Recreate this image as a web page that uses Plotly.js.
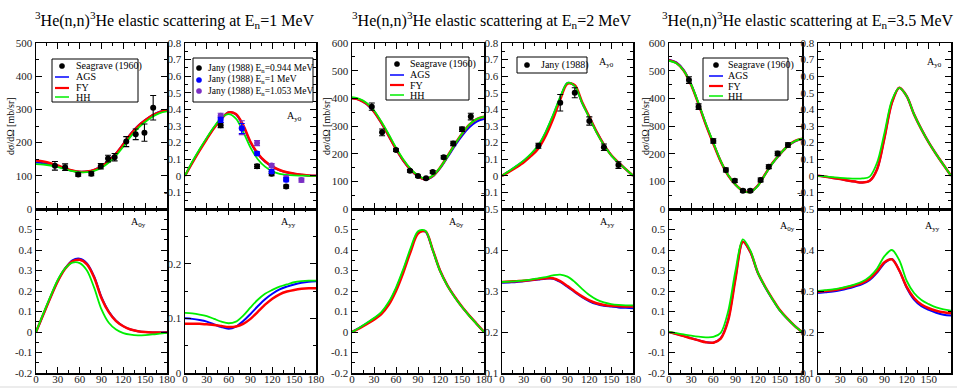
<!DOCTYPE html>
<html><head><meta charset="utf-8">
<script src="https://cdn.plot.ly/plotly-3.0.1.min.js"></script>
<style>html,body{margin:0;padding:0;background:#fff;overflow:hidden}#plot{width:957px;height:388px}</style>
</head><body><div id="plot"></div>
<script>
// ---------- data ----------
const theta = [0,10,20,30,40,50,60,70,80,90,100,110,120,130,140,150,160,170,180];
const xTicks = [0,30,60,90,120,150,180];
const xsTicksE1 = [0,100,200,300,400,500];
const xsTicks = [0,100,200,300,400,500,600];
const ay0Ticks = [-0.1,0,0.1,0.2,0.3,0.4,0.5,0.6,0.7,0.8];
const a0yTicks = [-0.2,-0.1,0,0.1,0.2,0.3,0.4,0.5];
const ayyTicksE1 = [0,0.1,0.2];
const ayyTicks = [0.1,0.2,0.3,0.4,0.5];

// E = 1 MeV
const e1XsAGS = [140,138,134,128,121,115,112,113,118,129,146,168,196,226,250,268,283,293,298];
const e1XsFY  = [146,143,138,131,123,116,112,113,118,128,145,167,195,225,249,267,282,292,298];
const e1XsHH  = [135,134,131,126,120,114,111,111,115,124,140,161,188,218,243,262,278,289,294];
const e1Ay0AGS = [0,0.08,0.155,0.225,0.29,0.345,0.383,0.37,0.3,0.2,0.13,0.085,0.055,0.033,0.02,0.012,0.006,0.002,0];
const e1Ay0FY  = [0,0.078,0.152,0.222,0.288,0.343,0.382,0.372,0.305,0.205,0.135,0.088,0.057,0.035,0.021,0.013,0.007,0.002,0];
const e1Ay0HH  = [0,0.085,0.16,0.23,0.295,0.35,0.372,0.345,0.265,0.17,0.1,0.055,0.027,0.012,0.005,0.002,0.001,0,0];
const e1A0yAGS = [0,0.085,0.17,0.25,0.31,0.35,0.358,0.335,0.27,0.17,0.1,0.055,0.028,0.012,0.004,0,-0.002,-0.002,0];
const e1A0yFY  = [0,0.085,0.17,0.248,0.308,0.345,0.352,0.33,0.265,0.165,0.097,0.053,0.028,0.012,0.004,0,-0.002,-0.003,-0.003];
const e1A0yHH  = [0,0.09,0.175,0.255,0.31,0.338,0.336,0.3,0.215,0.11,0.045,0.012,-0.005,-0.013,-0.016,-0.015,-0.012,-0.008,-0.004];
const e1AyyAGS = [0.100,0.099,0.097,0.094,0.089,0.084,0.081,0.085,0.095,0.108,0.122,0.135,0.145,0.153,0.158,0.162,0.165,0.167,0.168];
const e1AyyFY  = [0.090,0.090,0.090,0.089,0.088,0.086,0.084,0.085,0.090,0.099,0.112,0.125,0.136,0.144,0.149,0.152,0.154,0.155,0.155];
const e1AyyHH  = [0.110,0.109,0.107,0.104,0.099,0.094,0.091,0.094,0.105,0.120,0.134,0.145,0.152,0.158,0.162,0.166,0.168,0.169,0.169];
const e1SgTheta = [26,40,58,76,89,99,108,124,137,149,161];
const e1SgXs    = [130,126,104,106,129,152,156,203,225,230,305];
const e1SgErr   = [13,10,5,6,8,10,11,15,16,26,37];
const e1JanyTheta0944 = [49,99,119,139];
const e1Jany0944      = [0.305,0.057,0.012,-0.065];
const e1Jany0944Err   = [0.015,0.012,0.012,0.01];
const e1JanyTheta1 = [49,78,99,119,139];
const e1Jany1      = [0.337,0.285,0.134,0.026,-0.024];
const e1Jany1Err   = [0.015,0.03,0.01,0.012,0.012];
const e1JanyTheta1053 = [49,78,99,119,139,160];
const e1Jany1053      = [0.362,0.29,0.197,0.062,-0.014,-0.026];
const e1Jany1053Err   = [0.015,0.042,0.015,0.012,0.014,0.012];

// E = 2 MeV
const e2XsAGS = [400,395,379,351,311,264,216,174,141,118,107,118,147,186,227,264,295,316,325];
const e2XsFY  = [400,395,380,352,312,265,217,175,142,119,107,119,149,190,233,272,305,325,334];
const e2XsHH  = [404,398,383,356,316,270,222,179,145,121,109,120,149,189,232,272,305,325,334];
const e2Ay0AGS = [0,0.028,0.058,0.09,0.13,0.18,0.26,0.36,0.47,0.56,0.54,0.44,0.355,0.265,0.188,0.125,0.08,0.04,0];
const e2Ay0FY  = [0,0.025,0.052,0.082,0.12,0.165,0.24,0.34,0.46,0.555,0.545,0.445,0.355,0.265,0.188,0.125,0.08,0.04,0];
const e2Ay0HH  = [0,0.03,0.06,0.093,0.133,0.185,0.265,0.365,0.475,0.56,0.54,0.44,0.35,0.26,0.185,0.123,0.078,0.04,0];
const e2A0yAGS = [0,0.02,0.042,0.065,0.093,0.14,0.21,0.3,0.4,0.485,0.49,0.4,0.3,0.228,0.172,0.123,0.08,0.04,0];
const e2A0yFY  = [0,0.018,0.038,0.06,0.087,0.132,0.2,0.29,0.393,0.48,0.492,0.402,0.3,0.228,0.172,0.123,0.08,0.04,0];
const e2A0yHH  = [0,0.021,0.044,0.068,0.097,0.146,0.217,0.308,0.41,0.492,0.494,0.4,0.298,0.226,0.17,0.122,0.079,0.039,0];
const e2AyyAGS = [0.320,0.321,0.322,0.324,0.326,0.328,0.330,0.330,0.322,0.310,0.297,0.285,0.275,0.268,0.264,0.262,0.260,0.259,0.258];
const e2AyyFY  = [0.322,0.323,0.324,0.325,0.327,0.329,0.331,0.331,0.324,0.312,0.299,0.287,0.277,0.270,0.266,0.264,0.263,0.262,0.262];
const e2AyyHH  = [0.322,0.323,0.324,0.326,0.328,0.331,0.334,0.338,0.340,0.335,0.322,0.305,0.290,0.279,0.272,0.268,0.266,0.265,0.265];
const e2SgTheta = [27,41,60,79,90,101,110,125,138,150,162];
const e2SgXs    = [370,277,213,138,119,111,134,187,237,288,334];
const e2SgErr   = [13,12,5,5,4,4,5,6,8,8,12];
const e2JanyTheta = [50,80,100,120,140,160];
const e2Jany      = [0.181,0.44,0.50,0.33,0.172,0.065];
const e2JanyErr   = [0.015,0.05,0.03,0.025,0.02,0.02];

// E = 3.5 MeV
const e35XsAGS = [540,530,502,450,380,305,238,172,122,88,66,62,84,125,165,197,225,244,253];
const e35XsFY  = [538,528,500,448,379,304,236,172,122,88,66,62,84,125,166,198,226,245,254];
const e35XsHH  = [536,527,500,450,382,308,240,174,123,88,65,61,83,124,165,198,226,245,254];
const e35Ay0AGS = [0,-0.006,-0.013,-0.02,-0.028,-0.035,-0.04,-0.03,0.04,0.23,0.44,0.53,0.48,0.37,0.28,0.2,0.13,0.065,0];
const e35Ay0FY  = [0,-0.006,-0.013,-0.02,-0.028,-0.035,-0.04,-0.03,0.04,0.23,0.44,0.53,0.48,0.37,0.28,0.2,0.13,0.065,0];
const e35Ay0HH  = [0,-0.004,-0.008,-0.012,-0.015,-0.017,-0.016,-0.005,0.08,0.26,0.455,0.53,0.48,0.37,0.28,0.2,0.13,0.065,0];
const e35A0yAGS = [0,-0.01,-0.02,-0.03,-0.04,-0.05,-0.052,-0.03,0.06,0.265,0.44,0.39,0.29,0.22,0.16,0.105,0.065,0.03,0];
const e35A0yFY  = [0,-0.01,-0.02,-0.031,-0.041,-0.05,-0.052,-0.032,0.055,0.26,0.44,0.392,0.292,0.222,0.162,0.107,0.066,0.03,0];
const e35A0yHH  = [0,-0.006,-0.012,-0.018,-0.023,-0.026,-0.024,-0.004,0.1,0.3,0.452,0.398,0.292,0.22,0.16,0.105,0.065,0.03,0];
const e35AyyAGS = [0.295,0.297,0.299,0.302,0.306,0.311,0.317,0.327,0.345,0.368,0.378,0.350,0.308,0.279,0.263,0.254,0.247,0.242,0.240];
const e35AyyFY  = [0.298,0.300,0.302,0.305,0.309,0.314,0.320,0.330,0.348,0.370,0.377,0.350,0.310,0.283,0.267,0.258,0.252,0.248,0.246];
const e35AyyHH  = [0.300,0.302,0.304,0.307,0.311,0.316,0.323,0.335,0.355,0.385,0.400,0.375,0.325,0.295,0.278,0.268,0.260,0.255,0.252];
const e35SgTheta = [27,40,60,77,89,100,110,124,135,147,161];
const e35SgXs    = [466,370,246,141,102,66,66,105,153,201,231];
const e35SgErr   = [12,10,8,7,6,5,5,7,7,8,8];

// ---------- layout helpers ----------
const W = 957, H = 388;
const PX = x => x / W, PY = y => 1 - y / H;
const cols = [[36,167],[185,316],[352,484],[502,633],[669,802],[818,951]];
const rowsPx = [[43,209],[209,373]];
const ids = k => k === 1 ? ['x','y'] : ['x'+k, 'y'+k];
const BLUE = '#0000ff', RED = '#ff0000', GREEN = '#00ee00', PURPLE = '#7a2fc4';
const SERIF = 'Liberation Serif';

const traces = [];
function curves(k, ags, fy, hh) {
  const [xa, ya] = ids(k);
  [[ags, BLUE, 2], [fy, RED, 2.5], [hh, GREEN, 1.8]].forEach(([v, c, w]) => {
    traces.push({type:'scatter', mode:'lines', x: theta, y: v, xaxis: xa, yaxis: ya,
      line:{color:c, width:w, shape:'spline', smoothing:0.9}, hoverinfo:'skip', showlegend:false});
  });
}
function points(k, xs, ys, es, color) {
  const [xa, ya] = ids(k);
  traces.push({type:'scatter', mode:'markers', x: xs, y: ys, xaxis: xa, yaxis: ya,
    marker:{color:color, size:6, symbol:'circle'},
    error_y:{type:'data', array: es, visible:true, color:color, thickness:1.1, width:3},
    hoverinfo:'skip', showlegend:false});
}

curves(1, e1XsAGS, e1XsFY, e1XsHH);
curves(2, e1Ay0AGS, e1Ay0FY, e1Ay0HH);
curves(3, e2XsAGS, e2XsFY, e2XsHH);
curves(4, e2Ay0AGS, e2Ay0FY, e2Ay0HH);
curves(5, e35XsAGS, e35XsFY, e35XsHH);
curves(6, e35Ay0AGS, e35Ay0FY, e35Ay0HH);
curves(7, e1A0yAGS, e1A0yFY, e1A0yHH);
curves(8, e1AyyAGS, e1AyyFY, e1AyyHH);
curves(9, e2A0yAGS, e2A0yFY, e2A0yHH);
curves(10, e2AyyAGS, e2AyyFY, e2AyyHH);
curves(11, e35A0yAGS, e35A0yFY, e35A0yHH);
curves(12, e35AyyAGS, e35AyyFY, e35AyyHH);
points(1, e1SgTheta, e1SgXs, e1SgErr, '#000');
points(2, e1JanyTheta0944, e1Jany0944, e1Jany0944Err, '#000');
points(2, e1JanyTheta1053, e1Jany1053, e1Jany1053Err, PURPLE);
points(2, e1JanyTheta1, e1Jany1, e1Jany1Err, BLUE);
points(3, e2SgTheta, e2SgXs, e2SgErr, '#000');
points(4, e2JanyTheta, e2Jany, e2JanyErr, '#000');
points(5, e35SgTheta, e35SgXs, e35SgErr, '#000');

const yCfg = {
  1:{range:[0,500], ticks:xsTicksE1, minor:50},
  2:{range:[-0.2,0.8], ticks:ay0Ticks, minor:0.05},
  3:{range:[0,600], ticks:xsTicks, minor:50},
  4:{range:[-0.2,0.8], ticks:ay0Ticks, minor:0.05},
  5:{range:[0,600], ticks:xsTicks, minor:50},
  6:{range:[-0.2,0.8], ticks:ay0Ticks, minor:0.05},
  7:{range:[-0.2,0.6], ticks:a0yTicks, minor:0.05},
  8:{range:[0,0.3], ticks:ayyTicksE1, minor:0.05},
  9:{range:[-0.2,0.6], ticks:a0yTicks, minor:0.05},
  10:{range:[0.1,0.5], ticks:ayyTicks, minor:0.05},
  11:{range:[-0.2,0.6], ticks:a0yTicks, minor:0.05},
  12:{range:[0.1,0.5], ticks:ayyTicks, minor:0.05}
};

const layout = {
  width: W, height: H, margin:{l:0,r:0,t:0,b:0},
  paper_bgcolor:'#fff', plot_bgcolor:'#fff', showlegend:false,
  font:{family:SERIF, color:'#000'},
  annotations:[], shapes:[]
};
const tickFont = {family:SERIF, size:11, color:'#222'};
for (let k = 1; k <= 12; k++) {
  const col = (k - 1) % 6, row = k <= 6 ? 0 : 1;
  const [xa, ya] = ids(k);
  const xn = k === 1 ? 'xaxis' : 'xaxis' + k, yn = k === 1 ? 'yaxis' : 'yaxis' + k;
  const rp = rowsPx[row];
  layout[xn] = {domain:[PX(cols[col][0]), PX(cols[col][1])], anchor: ya, range:[0,180],
    tickmode:'array', tickvals: xTicks, ticktext: xTicks.map(String), showticklabels: row === 1,
    ticklabelstandoff:-5,
    ticks:'inside', ticklen:6, tickwidth:1, tickcolor:'#000', showline:true, linecolor:'#000', linewidth:1.5,
    mirror:'allticks', showgrid:false, zeroline:false, tickfont: tickFont, fixedrange:true,
    minor:{tickmode:'linear', tick0:0, dtick:15, ticks:'inside', ticklen:3, tickcolor:'#000', tickwidth:1}};
  const c = yCfg[k];
  layout[yn] = {domain:[PY(rp[1]), PY(rp[0])], anchor: xa, range: c.range,
    tickmode:'array', tickvals: c.ticks, ticktext: c.ticks.map(String),
    ticks:'inside', ticklen:6, tickwidth:1, tickcolor:'#000', showline:true, linecolor:'#000', linewidth:1.5,
    mirror:'allticks', showgrid:false, zeroline:false, tickfont: tickFont, fixedrange:true,
    minor:{tickmode:'linear', tick0:0, dtick:c.minor, ticks:'inside', ticklen:3, tickcolor:'#000', tickwidth:1}};
}

const A = layout.annotations, S = layout.shapes;
function txt(x, y, text, size, opts) {
  A.push(Object.assign({xref:'paper', yref:'paper', x: PX(x), y: PY(y), text: text, showarrow:false,
    font:{family:SERIF, size:size, color:'#000'}, xanchor:'left', yanchor:'middle'}, opts || {}));
}
// titles
const titleE = ['1','2','3.5'];
const titleX = [33, 350, 660];
titleE.forEach((e, i) => txt(titleX[i], 20, '<sup>3</sup>He(n,n)<sup>3</sup>He elastic scattering at E<sub>n</sub>=' + e + ' MeV', 16));
// y titles
[11, 327, 646].forEach(x => txt(x, 126, 'dσ/dΩ [mb/sr]', 10, {xanchor:'center', textangle:-90}));
// x titles
cols.forEach(c => txt((c[0] + c[1]) / 2, 384, 'θ [deg]', 10, {xanchor:'center', yanchor:'top'}));
// panel labels
txt(285, 116, 'A<sub>y0</sub>', 10);
txt(597, 63, 'A<sub>y0</sub>', 10);
txt(925, 63, 'A<sub>y0</sub>', 10);
txt(129, 223, 'A<sub>0y</sub>', 10);
txt(279, 223, 'A<sub>yy</sub>', 10);
txt(447, 223, 'A<sub>0y</sub>', 10);
txt(598, 223, 'A<sub>yy</sub>', 10);
txt(778, 226, 'A<sub>0y</sub>', 10);
txt(923, 226, 'A<sub>yy</sub>', 10);

// manual legends
function box(x0, y0, x1, y1) {
  S.push({type:'rect', xref:'paper', yref:'paper', x0:PX(x0), x1:PX(x1), y0:PY(y1), y1:PY(y0),
    line:{color:'#000', width:1}, fillcolor:'#fff', layer:'above'});
}
function dot(x, y, color) {
  S.push({type:'circle', xref:'paper', yref:'paper', x0:PX(x-2.6), x1:PX(x+2.6), y0:PY(y+2.6), y1:PY(y-2.6),
    line:{color:color, width:0.5}, fillcolor:color, layer:'above'});
}
function seg(x0, x1, y, color, w) {
  S.push({type:'line', xref:'paper', yref:'paper', x0:PX(x0), x1:PX(x1), y0:PY(y), y1:PY(y),
    line:{color:color, width:w}, layer:'above'});
}
function modelLegend(bx0, by0, bx1, by1, mx, tx, rows) {
  box(bx0, by0, bx1, by1);
  dot(mx, rows[0], '#000'); txt(tx, rows[0], 'Seagrave (1960)', 10);
  [['AGS', BLUE, 1.5], ['FY', RED, 2.2], ['HH', GREEN, 1.5]].forEach(([n, c, w], i) => {
    seg(mx - 7, mx + 7, rows[i + 1], c, w); txt(tx, rows[i + 1], n, 10);
  });
}
modelLegend(52, 59, 138, 102, 62, 74, [66, 77, 88, 97]);
modelLegend(386, 57, 469, 100, 397, 408, [64, 75, 85, 95]);
modelLegend(703, 58, 788, 100, 716, 726, [65, 76, 86, 96]);
box(193, 58, 313, 102);
[['0.944', '#000', 68], ['1', BLUE, 80], ['1.053', PURPLE, 91]].forEach(([e, c, y]) => {
  dot(199, y, c); txt(206, y, 'Jany (1988) E<sub>n</sub>=' + e + ' MeV', 9.5);
});
box(517, 57, 587, 73);
dot(527, 65, '#000'); txt(539, 65, 'Jany (1988)', 10);

// bottom strip
S.push({type:'rect', xref:'paper', yref:'paper', x0:0, x1:1, y0:0, y1:PY(386), line:{width:0}, fillcolor:'#ececec', layer:'above'});

Plotly.newPlot('plot', traces, layout, {staticPlot:true, displayModeBar:false});
</script>
</body></html>
